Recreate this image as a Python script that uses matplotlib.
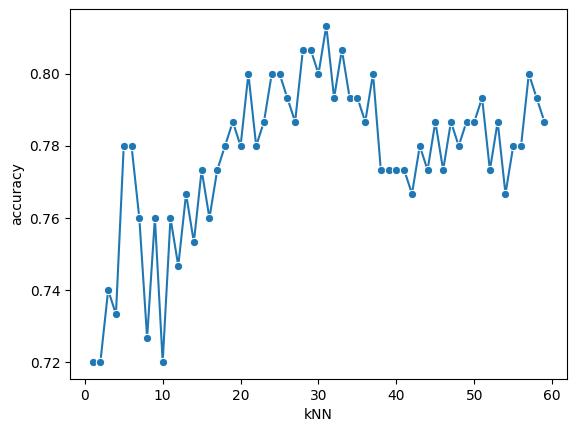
import matplotlib
matplotlib.use("Agg")
import matplotlib.pyplot as plt
import seaborn as sns
import pandas as pd

k_values = list(range(1, 60))
accuracy = [
    0.7200, 0.7200, 0.7400, 0.7333, 0.7800, 0.7800, 0.7600, 0.7267, 0.7600, 0.7200,
    0.7600, 0.7467, 0.7667, 0.7533, 0.7733, 0.7600, 0.7733, 0.7800, 0.7867, 0.7800,
    0.8000, 0.7800, 0.7867, 0.8000, 0.8000, 0.7933, 0.7867, 0.8067, 0.8067, 0.8000,
    0.8133, 0.7933, 0.8067, 0.7933, 0.7933, 0.7867, 0.8000, 0.7733, 0.7733, 0.7733,
    0.7733, 0.7667, 0.7800, 0.7733, 0.7867, 0.7733, 0.7867, 0.7800, 0.7867, 0.7867,
    0.7933, 0.7733, 0.7867, 0.7667, 0.7800, 0.7800, 0.8000, 0.7933, 0.7867,
]

df = pd.DataFrame({"kNN": k_values, "accuracy": accuracy})

fig, ax = plt.subplots(figsize=(5.76, 4.32), dpi=100)
fig.subplots_adjust(left=0.1215, right=0.9844, top=0.979, bottom=0.1227)
sns.lineplot(data=df, x="kNN", y="accuracy", marker="o", ax=ax)
plt.savefig("out.png")
